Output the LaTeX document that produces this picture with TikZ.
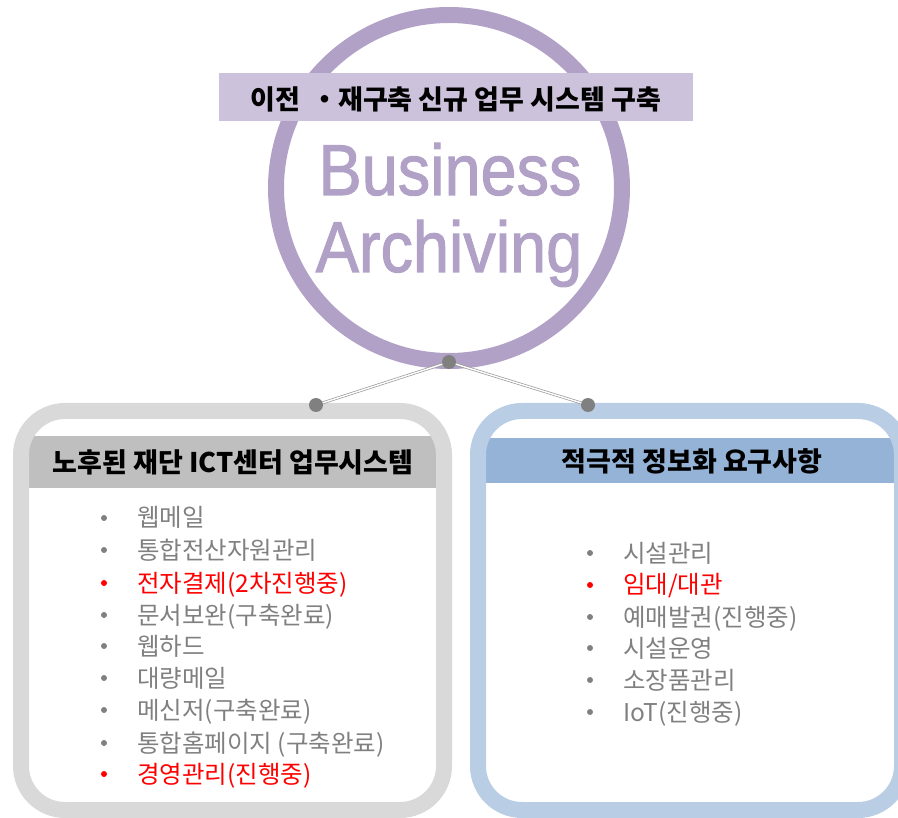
\documentclass[tikz,border=0pt]{standalone}
\usepackage{fontspec}
\setmainfont{Noto Sans CJK KR}
\newfontfamily\latinfont[FakeBold=1.5]{Liberation Sans}
\usepackage{tikz}
\usetikzlibrary{positioning}
\usepackage{color}
\definecolor{wisteria}{RGB}{177, 161, 199}
\definecolor{lilac}{RGB}{204, 194, 219}
\definecolor{silver}{RGB}{217, 217, 217}
\definecolor{ash}{RGB}{191, 191, 191}
\definecolor{pale}{RGB}{185, 205, 229}
\definecolor{steel}{RGB}{149, 179, 215}
\definecolor{slate}{RGB}{128, 128, 128}
\definecolor{signal}{RGB}{255, 0, 0}

\begin{document}
\begin{tikzpicture}[x=1pt, y=-1pt,
    title/.style   = {anchor=base, inner sep=0pt, font=\fontsize{27}{27}\selectfont\bfseries},
    brand/.style   = {anchor=base, inner sep=0pt, xscale=0.9, text=wisteria, font=\latinfont\fontsize{72}{72}\selectfont},
    item/.style    = {anchor=base west, inner sep=0pt, text=slate, font=\fontsize{24.5}{24.5}\selectfont},
    urgent/.style  = {item, text=signal},
    pin/.style     = {circle, fill=slate, inner sep=0pt, minimum size=14pt},
    link/.style    = {draw=slate!80, double=white, line width=0.7pt, double distance=1.4pt}]
            \useasboundingbox                                  (0, 0) rectangle (898, 818);
            \clip                                              (0, 0) rectangle (898, 818);
            % centre circle
            \draw[wisteria, line width=16pt]                   (449, 188) circle (173pt);
            \fill[lilac]                                       (219, 73) rectangle (693, 121);
            \node[title] (banner) at (456, 109.5) {이전 \,・재구축 신규 업무 시스템 구축};
            \node[brand] (business)  at (450, 195) {Business};
            \node[brand] (archiving) at (449, 272) {Archiving};
            % left panel
            \fill[ash]                                         (29, 436) rectangle (437, 488);
            \draw[silver, line width=16pt, rounded corners=44pt] (21, 411) rectangle (444, 810);
            \node[title] (oldhead) at (233, 473) {노후된 재단 ICT센터 업무시스템};
            % right panel
            \fill[steel]                                       (486, 438) rectangle (898, 483);
            \draw[pale, line width=16pt, rounded corners=44pt] (478, 411) rectangle (902, 810);
            \node[title] (newhead) at (692, 472) {적극적 정보화 요구사항};
            % left list
            \fill[slate]  (104, 518) circle (3pt);  \node[item]   (webmail)  at (137, 527) {웹메일};
            \fill[slate]  (104, 550) circle (3pt);  \node[item]   (infra)    at (137, 559) {통합전산자원관리};
            \fill[signal] (104, 583) circle (3pt);  \node[urgent] (approval) at (137, 592) {전자결제(2차진행중)};
            \fill[slate]  (104, 615) circle (3pt);  \node[item]   (docsec)   at (137, 624) {문서보완(구축완료)};
            \fill[slate]  (104, 646) circle (3pt);  \node[item]   (webhard)  at (137, 655) {웹하드};
            \fill[slate]  (104, 678) circle (3pt);  \node[item]   (bulkmail) at (137, 687) {대량메일};
            \fill[slate]  (104, 710) circle (3pt);  \node[item]   (msgr)     at (137, 719) {메신저(구축완료)};
            \fill[slate]  (104, 743) circle (3pt);  \node[item]   (portal)   at (137, 752) {통합홈페이지 (구축완료)};
            \fill[signal] (104, 774) circle (3pt);  \node[urgent] (mgmt)     at (137, 783) {경영관리(진행중)};
            % right list
            \fill[slate]  (590, 553) circle (3pt);  \node[item]   (facility) at (623, 562) {시설관리};
            \fill[signal] (590, 585) circle (3pt);  \node[urgent] (rental)   at (623, 594) {임대/대관};
            \fill[slate]  (590, 617) circle (3pt);  \node[item]   (tickets)  at (623, 626) {예매발권(진행중)};
            \fill[slate]  (590, 648) circle (3pt);  \node[item]   (ops)      at (623, 657) {시설운영};
            \fill[slate]  (590, 680) circle (3pt);  \node[item]   (assets)   at (623, 689) {소장품관리};
            \fill[slate]  (590, 712) circle (3pt);  \node[item]   (iot)      at (623, 721) {IoT(진행중)};
            % connectors
            \coordinate (hub)  at (449, 362);
            \coordinate (lpin) at (316, 405);
            \coordinate (rpin) at (588, 405);
            \draw[link] (hub) -- (lpin);
            \draw[link] (hub) -- (rpin);
            \node[pin] at (hub)  {};
            \node[pin] at (lpin) {};
            \node[pin] at (rpin) {};
        \end{tikzpicture}
\end{document}
